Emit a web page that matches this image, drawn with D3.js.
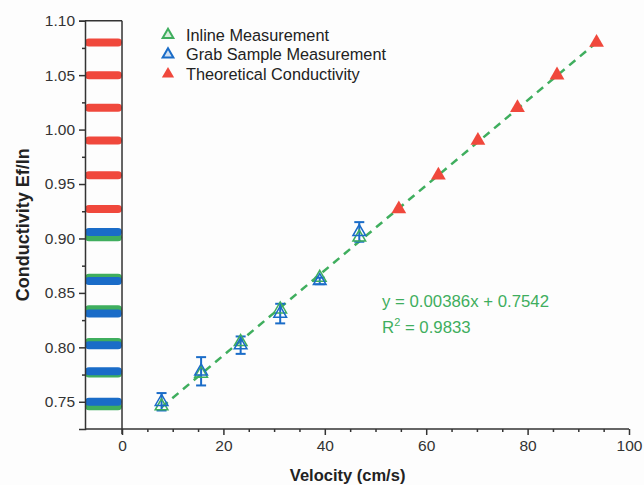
<!DOCTYPE html>
<html>
<head>
<meta charset="utf-8">
<script src="https://cdn.jsdelivr.net/npm/d3@7"></script>
<style>
  body { margin: 0; background: #fff; }
  text { font-family: Arial, "Liberation Sans", sans-serif; }
</style>
</head>
<body>
<div id="chart"></div>
<script>
// Velocity (cm/s) for each sample
const measuredVelocity = [7.8, 15.6, 23.4, 31.2, 39.0, 46.8];
const theoreticalVelocity = [54.6, 62.4, 70.2, 78.0, 85.8, 93.6];

// Conductivity Ef/In
const inlineValues = [0.746, 0.776, 0.805, 0.835, 0.864, 0.901];
const grabValues = [0.750, 0.778, 0.802, 0.831, 0.861, 0.906];
const grabErrors = [0.008, 0.013, 0.008, 0.009, 0.003, 0.009];
const theoreticalValues = [0.927, 0.958, 0.990, 1.020, 1.050, 1.080];

// dashed fit line end points
const fitLine = [[7.8, 0.745], [93.6, 1.080]];

const yTicks = [0.75, 0.80, 0.85, 0.90, 0.95, 1.00, 1.05, 1.10];
const xTicks = [0, 20, 40, 60, 80, 100];
const legendLabels = ["Inline Measurement", "Grab Sample Measurement", "Theoretical Conductivity"];

const W = 644, H = 485;
const green = "#3fae5e", blue = "#1a6cc8", red = "#f0483c";

const svg = d3.select("#chart").append("svg")
    .attr("width", W)
    .attr("height", H);

svg.append("rect").attr("width", W).attr("height", H).attr("fill", "#fdfdfd");

const x = d3.scaleLinear().domain([-7.3, 100]).range([85, 629]);
const y = d3.scaleLinear().domain([0.725, 1.10]).range([429, 20.7]);

// left panel: values projected as thick bars
const barsG = svg.append("g");
function drawBars(vals, color) {
    barsG.selectAll(null)
        .data(vals)
        .enter()
        .append("line")
        .attr("x1", x(-7.3) + 4)
        .attr("x2", x(0) - 4)
        .attr("y1", d => y(d))
        .attr("y2", d => y(d))
        .attr("stroke", color)
        .attr("stroke-width", 8)
        .attr("stroke-linecap", "round");
}
drawBars(theoreticalValues, red);
drawBars(inlineValues, green);
drawBars(grabValues, blue);

// frame lines
const axisColor = "#333";
svg.append("line").attr("x1", x(-7.3)).attr("x2", x(0)).attr("y1", y(1.10)).attr("y2", y(1.10))
    .attr("stroke", axisColor).attr("stroke-width", 1.5);
svg.append("line").attr("x1", x(0)).attr("x2", x(0)).attr("y1", y(1.10)).attr("y2", y(0.725) + 5)
    .attr("stroke", axisColor).attr("stroke-width", 1.5);

// y axis
svg.append("g")
    .attr("transform", `translate(${x(-7.3)},0)`)
    .call(d3.axisLeft(y).tickValues(yTicks).tickFormat(d3.format(".2f")).tickSize(6).tickPadding(4));
svg.append("g")
    .attr("transform", `translate(${x(-7.3)},0)`)
    .call(d3.axisLeft(y).tickValues(d3.range(0.775, 1.10, 0.05)).tickFormat("").tickSize(3))
    .select(".domain").remove();

// x axis
const xAxis = svg.append("g")
    .attr("transform", `translate(0,${y(0.725)})`)
    .call(d3.axisBottom(x).tickValues(xTicks).tickSize(6).tickPadding(5));
svg.append("g")
    .attr("transform", `translate(0,${y(0.725)})`)
    .call(d3.axisBottom(x).tickValues(d3.range(5, 100, 5).filter(v => v % 20 !== 0)).tickFormat("").tickSize(3))
    .select(".domain").remove();
xAxis.select(".domain").attr("d", `M${x(-7.3)},0H${x(100)}`);

svg.selectAll(".domain, .tick line").attr("stroke", axisColor).attr("stroke-width", 1.5);
svg.selectAll(".tick text").attr("fill", "#333").style("font-size", "15.5px")
    .style("font-family", "Arial, 'Liberation Sans', sans-serif");

// axis titles
svg.append("text")
    .attr("transform", `translate(29,${(y(1.10) + y(0.725)) / 2}) rotate(-90)`)
    .attr("text-anchor", "middle")
    .attr("font-weight", "bold")
    .attr("font-size", "18px")
    .attr("fill", "#222")
    .text("Conductivity Ef/In");

svg.append("text")
    .attr("x", x(44.5))
    .attr("y", 481)
    .attr("text-anchor", "middle")
    .attr("font-weight", "bold")
    .attr("font-size", "16.5px")
    .attr("fill", "#222")
    .text("Velocity (cm/s)");

// fit line
svg.append("path")
    .datum(fitLine)
    .attr("d", d3.line().x(d => x(d[0])).y(d => y(d[1])))
    .attr("fill", "none")
    .attr("stroke", green)
    .attr("stroke-width", 2.5)
    .attr("stroke-dasharray", "8,6");

const tri = d3.symbol().type(d3.symbolTriangle).size(70);

// grab sample error bars
const errG = svg.append("g").attr("stroke", blue).attr("stroke-width", 2);
measuredVelocity.forEach((v, i) => {
    const cx = x(v);
    const top = y(grabValues[i] + grabErrors[i]);
    const bot = y(grabValues[i] - grabErrors[i]);
    errG.append("line").attr("x1", cx).attr("x2", cx).attr("y1", top).attr("y2", bot);
    errG.append("line").attr("x1", cx - 5).attr("x2", cx + 5).attr("y1", top).attr("y2", top);
    errG.append("line").attr("x1", cx - 5).attr("x2", cx + 5).attr("y1", bot).attr("y2", bot);
});

// inline markers
svg.append("g").selectAll("path")
    .data(inlineValues)
    .enter()
    .append("path")
    .attr("d", tri)
    .attr("transform", (d, i) => `translate(${x(measuredVelocity[i])},${y(d)})`)
    .attr("fill", "none")
    .attr("stroke", green)
    .attr("stroke-width", 1.5);

// grab markers
svg.append("g").selectAll("path")
    .data(grabValues)
    .enter()
    .append("path")
    .attr("d", tri)
    .attr("transform", (d, i) => `translate(${x(measuredVelocity[i])},${y(d)})`)
    .attr("fill", "none")
    .attr("stroke", blue)
    .attr("stroke-width", 1.5);

// theoretical markers
svg.append("g").selectAll("path")
    .data(theoreticalValues)
    .enter()
    .append("path")
    .attr("d", d3.symbol().type(d3.symbolTriangle).size(95))
    .attr("transform", (d, i) => `translate(${x(theoreticalVelocity[i])},${y(d)})`)
    .attr("fill", red);

// legend
const legend = svg.append("g").attr("transform", "translate(168,35)");
const legendColors = [green, blue, red];
legendLabels.forEach((label, i) => {
    const row = legend.append("g").attr("transform", `translate(0,${i * 19.5})`);
    if (i === 2) {
        row.append("path").attr("d", d3.symbol().type(d3.symbolTriangle).size(65)).attr("fill", red);
    } else {
        row.append("path").attr("d", d3.symbol().type(d3.symbolTriangle).size(50))
            .attr("fill", i === 0 ? "#d8eedd" : "#cfe0f3")
            .attr("stroke", legendColors[i]).attr("stroke-width", 2);
    }
    row.append("text")
        .attr("x", 18)
        .attr("y", 5.5)
        .attr("font-size", "16.3px")
        .attr("fill", "#222")
        .text(label);
});

// equation
const eq = svg.append("g").attr("fill", green).attr("font-size", "16.8px");
eq.append("text").attr("x", 382).attr("y", 307).text("y = 0.00386x + 0.7542");
const r2 = eq.append("text").attr("x", 382).attr("y", 333);
r2.append("tspan").text("R");
r2.append("tspan").attr("font-size", "11px").attr("dy", -7).text("2");
r2.append("tspan").attr("dy", 7).text(" = 0.9833");
</script>
</body>
</html>
